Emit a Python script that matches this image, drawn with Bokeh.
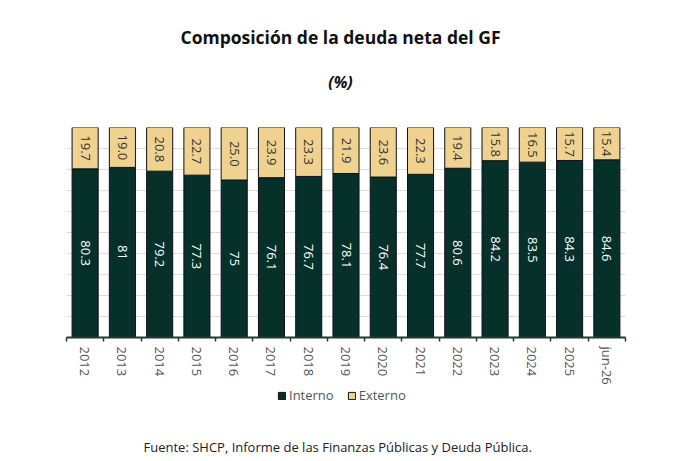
import math
import numpy as np
from bokeh.plotting import figure
from bokeh.layouts import column
from bokeh.models import (ColumnDataSource, FixedTicker, Legend, LegendItem, Label,
                          Range1d)
from bokeh.core.properties import value
from bokeh.embed import file_html
from bokeh.resources import INLINE

categories = ["2012", "2013", "2014", "2015", "2016", "2017", "2018", "2019",
              "2020", "2021", "2022", "2023", "2024", "2025", "jun-26"]
interno = [80.3, 81, 79.2, 77.3, 75, 76.1, 76.7, 78.1, 76.4, 77.7, 80.6, 84.2, 83.5, 84.3, 84.6]
externo = [19.7, 19.0, 20.8, 22.7, 25.0, 23.9, 23.3, 21.9, 23.6, 22.3, 19.4, 15.8, 16.5, 15.7, 15.4]
series_names = ["Interno", "Externo"]
title_text = "Composición de la deuda neta del GF"
subtitle_text = "(%)"
source_text = "Fuente: SHCP, Informe de las Finanzas Públicas y Deuda Pública."

GREEN = "#06302a"
TAN = "#f0d290"
FONT = "Open Sans"
W = 683
LEFT = 66   # frame left edge shared by all stacked figures (column aligns frames)


def bare(height):
    f = figure(width=W, height=height, output_backend="svg", toolbar_location=None,
               x_range=Range1d(0, 1), y_range=Range1d(0, 1),
               x_axis_location=None, y_axis_location=None,
               min_border_left=0, min_border_right=0, min_border_top=0,
               min_border_bottom=0)
    f.outline_line_color = None
    f.xgrid.visible = False
    f.ygrid.visible = False
    f.border_fill_color = "white"
    return f


# ---- header (title + subtitle)
H0 = 122
p0 = bare(H0)
p0.add_layout(Label(x=340 - LEFT, y=H0 - 36, x_units="screen", y_units="screen",
                    text=title_text, text_align="center", text_baseline="middle",
                    text_font=FONT, text_font_size="17.5px", text_font_style="bold",
                    text_color="#111111"))
p0.add_layout(Label(x=340 - LEFT, y=H0 - 81, x_units="screen", y_units="screen",
                    text=subtitle_text, text_align="center", text_baseline="middle",
                    text_font=FONT, text_font_size="16px", text_font_style="bold italic",
                    text_color="#111111"))

# ---- main chart
n = len(categories)
xc = np.arange(n) + 0.5
interno_a = np.array(interno, dtype=float)
externo_a = np.array(externo, dtype=float)

src = ColumnDataSource(dict(
    x=xc,
    i_top=interno_a,
    e_bottom=interno_a,
    e_top=interno_a + externo_a,
    i_mid=interno_a / 2,
    e_mid=interno_a + externo_a / 2,
    i_lab=[f"{v:g}" for v in interno],
    e_lab=[f"{v:.1f}" for v in externo],
))

H1 = 265
p = figure(width=W, height=H1, output_backend="svg", toolbar_location=None,
           x_range=Range1d(0, n), y_range=Range1d(0, 100),
           min_border_left=LEFT, min_border_right=58, min_border_top=5,
           min_border_bottom=46)
p.outline_line_color = None
p.background_fill_color = "white"
p.border_fill_color = "white"

p.vbar(x="x", bottom=0, top="i_top", width=0.7, source=src,
       fill_color=GREEN, line_color="#111111", line_width=1)
p.vbar(x="x", bottom="e_bottom", top="e_top", width=0.7, source=src,
       fill_color=TAN, line_color="#111111", line_width=1)

p.text(x="x", y="i_mid", text="i_lab", source=src, angle=-math.pi / 2,
       text_align="center", text_baseline="middle", text_color="white",
       text_font=value(FONT), text_font_size="13px")
p.text(x="x", y="e_mid", text="e_lab", source=src, angle=-math.pi / 2,
       text_align="center", text_baseline="middle", text_color="#333333",
       text_font=value(FONT), text_font_size="13px")

p.xaxis.ticker = FixedTicker(ticks=list(xc), minor_ticks=list(range(n + 1)))
p.xaxis.major_label_overrides = {float(x): c for x, c in zip(xc, categories)}
p.xaxis.major_label_orientation = -math.pi / 2
p.xaxis.major_tick_line_color = None
p.xaxis.minor_tick_in = 0
p.xaxis.minor_tick_out = 4
p.xaxis.minor_tick_line_color = "#1f3b33"
p.xaxis.minor_tick_line_width = 1.5
p.xaxis.axis_line_color = "#1f3b33"
p.xaxis.axis_line_width = 2
p.xaxis.major_label_text_font = FONT
p.xaxis.major_label_text_font_size = "13px"
p.xaxis.major_label_text_color = "#555555"
p.xaxis.major_label_standoff = 3
p.xgrid.grid_line_color = None

p.yaxis.visible = False
p.ygrid.ticker = FixedTicker(ticks=list(range(0, 101, 10)))
p.ygrid.grid_line_color = "#dddddd"
p.ygrid.grid_line_width = 1

# ---- footer (legend + source)
H2 = 461 - H0 - H1
p2 = bare(H2)
# legend swatches: one hidden bar each, lying outside the footer's visible range
g1 = p2.vbar(x=[-5], bottom=[-5], top=[-4], width=0.5, fill_color=GREEN,
             line_color="#111111")
g2 = p2.vbar(x=[-5], bottom=[-5], top=[-4], width=0.5, fill_color=TAN,
             line_color="#111111")
legend = Legend(items=[LegendItem(label=series_names[0], renderers=[g1]),
                       LegendItem(label=series_names[1], renderers=[g2])],
                orientation="horizontal", location=(277 - LEFT, H2 - 17),
                label_text_font=FONT, label_text_font_size="13px",
                label_text_color="#555555", glyph_width=9, glyph_height=9,
                label_height=14, label_standoff=3, spacing=13, padding=0, margin=0,
                border_line_color=None, background_fill_alpha=0)
p2.add_layout(legend, "center")
p2.add_layout(Label(x=143 - LEFT, y=15, x_units="screen", y_units="screen",
                    text=source_text, text_align="left", text_baseline="middle",
                    text_font=FONT, text_font_size="13px", text_color="#222222"))

layout = column(p0, p, p2, spacing=0)
open("out.html", "w").write(file_html(layout, INLINE))
